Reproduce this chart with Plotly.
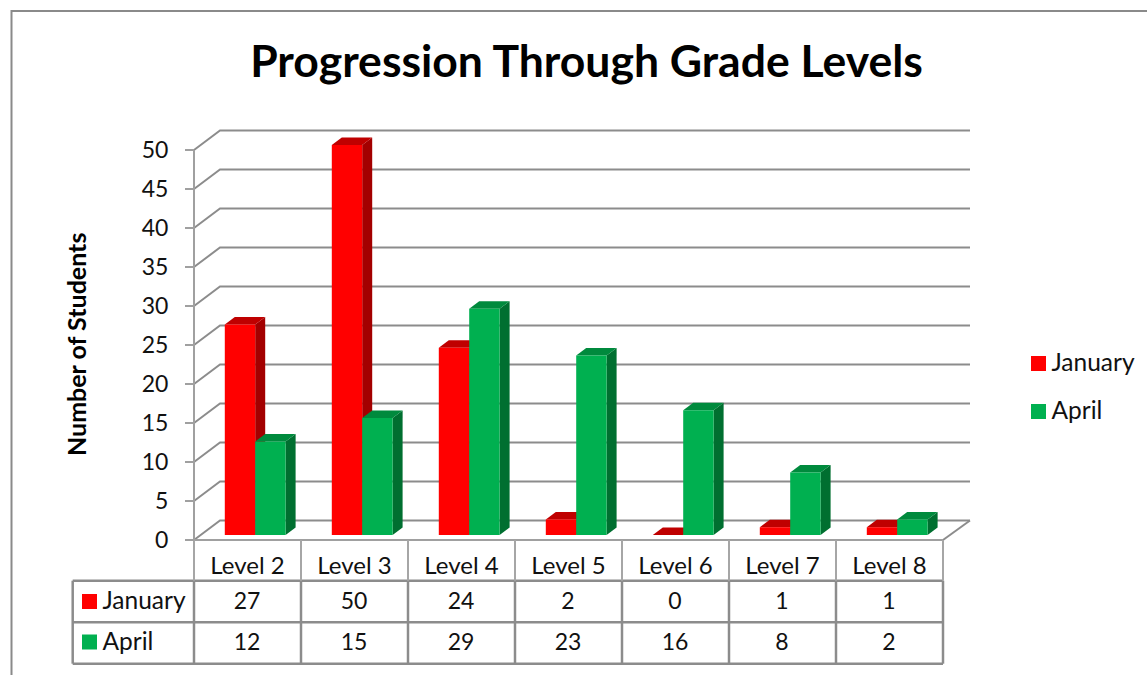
import plotly.graph_objects as go

levels = ["Level 2", "Level 3", "Level 4", "Level 5", "Level 6", "Level 7", "Level 8"]
january = [27, 50, 24, 2, 0, 1, 1]
april = [12, 15, 29, 23, 16, 8, 2]
y_ticks = [0, 5, 10, 15, 20, 25, 30, 35, 40, 45, 50]
series_names = ["January", "April"]

W, H = 1147, 675
FONT = "Lato"
TXT = "#111111"
GRID = "#8c8c8c"
PX_X, PX_Y, X0, Y0 = 107.0, 7.8, 194.0, 540.0


def xp(p):
    return (p - X0) / PX_X


def yp(p):
    return (Y0 - p) / PX_Y


n = len(levels)
idx = list(range(n))
wall_dx, wall_dy = 26 / PX_X, 19.5 / PX_Y
depth_dx, depth_dy = 10 / PX_X, 7.5 / PX_Y
bar_base = 0.64
bar_w = 30.4 / PX_X
bar_start = 30.8 / PX_X
right_edge = xp(970)

shapes = []
for v in y_ticks:
    shapes.append(dict(
        type="path", xref="x", yref="y", layer="below",
        path=f"M0,{v} L{wall_dx},{v + wall_dy} L{right_edge},{v + wall_dy}",
        line=dict(color=GRID, width=2),
    ))
shapes.append(dict(
    type="line", xref="x", yref="y", layer="below",
    x0=n, y0=0, x1=right_edge, y1=wall_dy, line=dict(color=GRID, width=2),
))


def box_faces(i, off, v, top, side):
    x0 = i + off
    x1 = x0 + bar_w
    y0 = bar_base
    y1 = bar_base + v
    paths = [
        (f"M{x1},{y0} L{x1 + depth_dx},{y0 + depth_dy} L{x1 + depth_dx},{y1 + depth_dy} L{x1},{y1} Z", side),
        (f"M{x0},{y1} L{x1},{y1} L{x1 + depth_dx},{y1 + depth_dy} L{x0 + depth_dx},{y1 + depth_dy} Z", top),
    ]
    if v == 0:
        paths = paths[1:]
    for p, c in paths:
        shapes.append(dict(type="path", xref="x", yref="y", layer="below", path=p,
                           fillcolor=c, line=dict(width=0)))


for i, v in enumerate(january):
    box_faces(i, bar_start, v, "#BF0000", "#A30000")
for i, v in enumerate(april):
    box_faces(i, bar_start + bar_w, v, "#008A3D", "#006F30")

fig = go.Figure()

fig.add_trace(go.Bar(x=idx, y=january, base=bar_base, width=bar_w, offset=bar_start,
                     marker=dict(color="#FF0000", line=dict(width=0)), showlegend=False,
                     name="January"))
fig.add_trace(go.Bar(x=idx, y=april, base=bar_base, width=bar_w, offset=bar_start + bar_w,
                     marker=dict(color="#00B050", line=dict(width=0)), showlegend=False,
                     name="April"))

# axis line and floor edge
fig.add_trace(go.Scatter(x=[0, 0, n], y=[y_ticks[-1], 0, 0], mode="lines",
                         line=dict(color="#a0a0a0", width=2), showlegend=False, hoverinfo="skip"))

# data table rules
row_lines = [yp(580.7), yp(622.3), yp(663.7)]
tx, ty = [], []
for r in row_lines:
    tx += [xp(72.7), n, None]
    ty += [r, r, None]
tx += [xp(72.7), xp(72.7), None]
ty += [row_lines[0], row_lines[-1], None]
for i in range(n + 1):
    tx += [i, i, None]
    ty += [row_lines[0], row_lines[-1], None]
fig.add_trace(go.Scatter(x=tx, y=ty, mode="lines",
                         line=dict(color=GRID, width=2.5), showlegend=False, hoverinfo="skip"))
hx, hy = [], []
for i in range(n + 1):
    hx += [i, i, None]
    hy += [0, row_lines[0], None]
fig.add_trace(go.Scatter(x=hx, y=hy, mode="lines",
                         line=dict(color="#a6a6a6", width=2), showlegend=False, hoverinfo="skip"))

# frame
fig.add_trace(go.Scatter(x=[xp(11.5), xp(11.5), xp(W)], y=[yp(H), yp(11), yp(11)],
                         mode="lines", line=dict(color="#8a8a8a", width=2),
                         showlegend=False, hoverinfo="skip"))

# table values
centers = [i + 0.5 for i in idx]
row_y = [yp(601.5), yp(642)]
text_row_y = [yp(603), yp(644)]
for vals, ry in zip([january, april], text_row_y):
    fig.add_trace(go.Scatter(x=[c - 0.005 for c in centers], y=[ry] * n, mode="text",
                             text=[str(v) for v in vals], textposition="middle center",
                             textfont=dict(family=FONT, size=23, color=TXT),
                             showlegend=False, hoverinfo="skip"))

# series keys in the table and at the right
key_colors = ["#FF0000", "#00B050"]
for name, color, ry, try_, ly, tly in zip(series_names, key_colors, row_y, text_row_y,
                                          [yp(363.5), yp(411.5)], [yp(364.5), yp(412.5)]):
    fig.add_trace(go.Scatter(x=[xp(89.5), xp(1038.5)], y=[ry, ly], mode="markers", name=name,
                             marker=dict(symbol="square", size=15, color=color), showlegend=False))
    fig.add_trace(go.Scatter(x=[xp(102.5), xp(1051.5)], y=[try_, tly], mode="text", name=name,
                             text=[name, name], textposition="middle right",
                             textfont=dict(family=FONT, size=24.5, color=TXT),
                             showlegend=False, hoverinfo="skip"))

fig.update_layout(
    width=W, height=H,
    autosize=False,
    showlegend=False,
    margin=dict(l=0, r=0, t=0, b=0, pad=0),
    paper_bgcolor="white", plot_bgcolor="white",
    barmode="overlay",
    font=dict(family=FONT, color=TXT, size=24),
    title=dict(text="<b>Progression Through Grade Levels</b>",
               font=dict(family=FONT, size=44.5, color="#000000"),
               x=586.5 / W, xanchor="center", y=1 - 61 / H, yanchor="middle"),
    xaxis=dict(range=[xp(0), xp(W)], tickmode="array", tickvals=centers, ticktext=levels,
               anchor="free", position=(H - Y0) / H,
               showgrid=False, zeroline=False, showline=False, ticks="outside",
               ticklen=4, tickcolor="rgba(0,0,0,0)", tickfont=dict(family=FONT, size=24, color=TXT)),
    yaxis=dict(range=[yp(H), yp(0)], tickmode="array", tickvals=y_ticks,
               anchor="free", position=X0 / W,
               showgrid=False, zeroline=False, showline=False, ticks="outside",
               ticklen=9, tickwidth=2, tickcolor="#a0a0a0", ticklabelstandoff=12,
               tickfont=dict(family=FONT, size=23, color=TXT)),
    shapes=shapes,
    annotations=[dict(text="<b>Number of Students</b>", xref="x", yref="y",
                      x=xp(76), y=yp(345), textangle=-90, showarrow=False,
                      font=dict(family=FONT, size=25, color="#000000"))],
)

fig.write_html("out.html", post_script="document.body.style.margin='0';",
               config={"displayModeBar": False})
